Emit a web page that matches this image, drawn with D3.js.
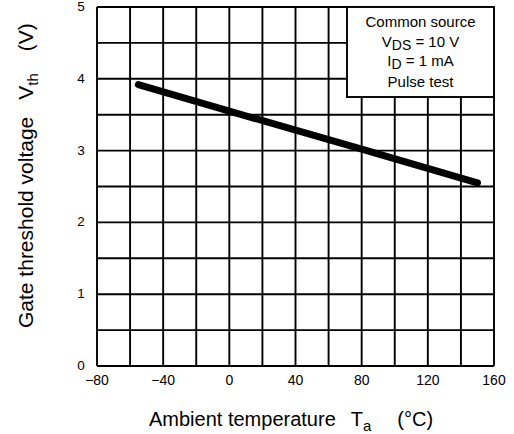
<!DOCTYPE html>
<html>
<head>
<meta charset="utf-8">
<script src="https://cdn.jsdelivr.net/npm/d3@7/dist/d3.min.js"></script>
<style>
  html, body { margin: 0; padding: 0; background: #fff; }
  svg { display: block; font-family: "Liberation Sans", Arial, sans-serif; }
</style>
</head>
<body>
<svg id="chart" width="514" height="434"></svg>
<script>
// Gate threshold voltage vs. ambient temperature
const temperature = [-55, 0, 80, 150];          // Ta (°C)
const thresholdV  = [3.92, 3.55, 3.02, 2.55];   // Vth (V)

const xTicks = [-80, -40, 0, 40, 80, 120, 160];
const yTicks = [0, 1, 2, 3, 4, 5];
const xGrid = d3.range(-80, 161, 20);
const yGrid = d3.range(0, 5.01, 0.5);

const conditions = ["Common source", "VDS = 10 V", "ID = 1 mA", "Pulse test"];

const svg = d3.select("#chart");
const plot = { left: 97, right: 494, top: 7, bottom: 366 };

const x = d3.scaleLinear().domain([-80, 160]).range([plot.left, plot.right]);
const y = d3.scaleLinear().domain([0, 5]).range([plot.bottom, plot.top]);

// grid
const g = svg.append("g");
g.selectAll("line.vx").data(xGrid).join("line")
  .attr("x1", d => x(d)).attr("x2", d => x(d))
  .attr("y1", plot.top).attr("y2", plot.bottom)
  .attr("stroke", "#000").attr("stroke-width", 1.9);
g.selectAll("line.hy").data(yGrid).join("line")
  .attr("x1", plot.left).attr("x2", plot.right)
  .attr("y1", d => y(d)).attr("y2", d => y(d))
  .attr("stroke", "#000").attr("stroke-width", 1.9);

// tick labels
svg.append("g").selectAll("text").data(xTicks).join("text")
  .attr("x", d => x(d)).attr("y", plot.bottom + 19)
  .attr("text-anchor", "middle").attr("font-size", 14)
  .text(d => d < 0 ? "\u2212" + Math.abs(d) : d);
svg.append("g").selectAll("text").data(yTicks).join("text")
  .attr("x", plot.left - 16).attr("y", d => y(d) + 4)
  .attr("text-anchor", "middle").attr("font-size", 13.5)
  .text(d => d);

// conditions box
const box = { x0: 347, y0: plot.top, x1: plot.right, y1: 97 };
svg.append("rect")
  .attr("x", box.x0).attr("y", box.y0)
  .attr("width", box.x1 - box.x0).attr("height", box.y1 - box.y0)
  .attr("fill", "#fff").attr("stroke", "#000").attr("stroke-width", 1.9);

const cx = (box.x0 + box.x1) / 2;
const lineY = [27, 47, 66, 87];
const condText = svg.append("g").attr("font-size", 15).attr("text-anchor", "middle");
condText.append("text").attr("x", cx).attr("y", lineY[0]).text(conditions[0]);
const t1 = condText.append("text").attr("x", cx).attr("y", lineY[1]);
t1.append("tspan").text("V");
t1.append("tspan").attr("font-size", 14).attr("dy", 3).text("DS");
t1.append("tspan").attr("dy", -3).text(" = 10 V");
const t2 = condText.append("text").attr("x", cx).attr("y", lineY[2]);
t2.append("tspan").text("I");
t2.append("tspan").attr("font-size", 14).attr("dy", 3).text("D");
t2.append("tspan").attr("dy", -3).text(" = 1 mA");
condText.append("text").attr("x", cx).attr("y", lineY[3]).text(conditions[3]);

// characteristic curve
const line = d3.line().x((d, i) => x(temperature[i])).y(d => y(d));
svg.append("path").datum(thresholdV)
  .attr("d", line)
  .attr("fill", "none").attr("stroke", "#000")
  .attr("stroke-width", 7).attr("stroke-linecap", "round");

// axis titles
const xt = svg.append("text").attr("x", 149).attr("y", 426)
  .attr("text-anchor", "start").attr("font-size", 20);
xt.append("tspan").text("Ambient temperature");
xt.append("tspan").attr("dx", 15).text("T");
xt.append("tspan").attr("font-size", 15).attr("dy", 5).text("a");
xt.append("tspan").attr("dx", 26).attr("dy", -5).text("(\u00B0C)");

const yt = svg.append("text").attr("transform", "translate(33,328) rotate(-90)")
  .attr("text-anchor", "start").attr("font-size", 21);
yt.append("tspan").text("Gate threshold voltage");
yt.append("tspan").attr("dx", 17).text("V");
yt.append("tspan").attr("font-size", 15).attr("dy", 5).text("th");
yt.append("tspan").attr("dx", 22).attr("dy", -5).text("(V)");
</script>
</body>
</html>
